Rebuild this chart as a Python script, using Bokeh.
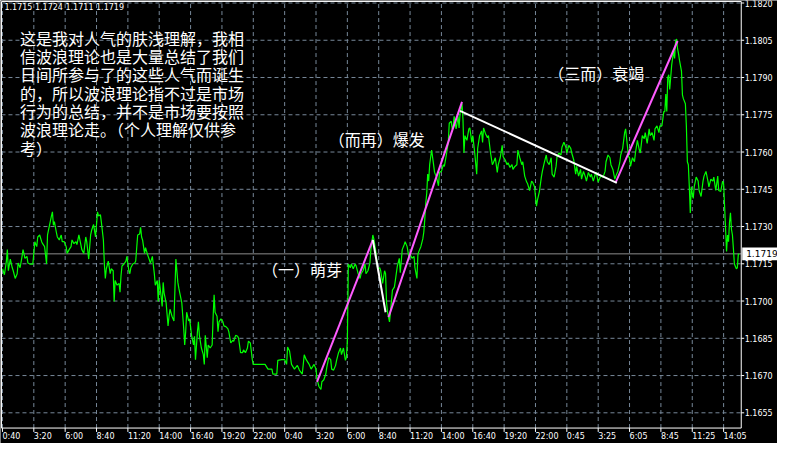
from bokeh.plotting import figure
from bokeh.models import Range1d, ColumnDataSource
from bokeh.embed import file_html
from bokeh.resources import INLINE
from bokeh.core.properties import value

# ---------------- data ----------------
bars = [2, 4, 6, 7, 8, 10, 12, 13, 15, 17, 18, 20, 22, 23, 25, 27, 28, 30, 33, 34, 35, 37, 38, 40, 42, 43, 45, 47, 48, 50,
        52, 53, 54, 55, 57, 58, 60, 62, 63, 65, 67, 68, 70, 72, 73, 75, 77, 78, 80, 82, 83, 85, 87, 88, 90, 92, 93, 95, 97, 99,
        100, 102, 103, 105, 106, 107, 108, 110, 112, 113, 115, 116, 117, 119, 121, 122, 123, 124, 126, 128, 129, 131, 132, 133, 135, 137, 138, 140, 142, 143,
        144, 145, 147, 148, 150, 152, 153, 155, 157, 158, 160, 161, 162, 164, 165, 166, 167, 169, 171, 172, 173, 175, 177, 178, 179, 181, 182, 183, 185, 187,
        188, 189, 190, 192, 193, 195, 197, 198, 199, 201, 202, 203, 205, 207, 208, 209, 211, 212, 214, 216, 217, 218, 219, 221, 222, 223, 225, 227, 228, 230,
        232, 233, 235, 237, 238, 240, 242, 243, 245, 247, 248, 250, 252, 253, 255, 257, 258, 260, 263, 265, 270, 273, 277, 278, 282, 283, 287, 290, 292, 293,
        295, 297, 300, 303, 305, 308, 310, 312, 315, 317, 320, 322, 323, 325, 327, 328, 330, 332, 333, 335, 337, 338, 340, 342, 343, 345, 347, 348, 350, 352,
        353, 354, 355, 357, 358, 360, 362, 363, 365, 367, 368, 370, 372, 373, 375, 377, 378, 380, 381, 382, 383, 385, 387, 388, 390, 392, 393, 394, 395, 397,
        398, 400, 402, 403, 405, 407, 408, 410, 412, 413, 415, 417, 418, 420, 422, 423, 425, 426, 427, 429, 431, 432, 433, 434, 435, 436, 437, 438, 440, 442,
        443, 445, 447, 448, 450, 452, 453, 455, 457, 458, 460, 461, 462, 463, 465, 467, 468, 469, 471, 472, 473, 474, 476, 478, 479, 481, 482, 484, 486, 487,
        489, 491, 492, 493, 495, 497, 498, 500, 502, 503, 505, 507, 508, 510, 512, 513, 515, 517, 518, 520, 522, 523, 525, 527, 528, 530, 532, 533, 535, 537,
        538, 540, 542, 543, 545, 547, 548, 550, 552, 553, 555, 557, 558, 560, 562, 563, 565, 567, 568, 570, 572, 573, 575, 577, 578, 580, 582, 583, 585, 587,
        588, 590, 592, 593, 595, 597, 598, 600, 602, 603, 605, 607, 608, 610, 612, 613, 615, 617, 618, 620, 622, 623, 625, 627, 628, 630, 632, 633, 635, 637,
        638, 639, 641, 642, 643, 645, 647, 648, 650, 652, 653, 655, 657, 658, 660, 662, 663, 665, 667, 668, 670, 672, 673, 675, 677, 678, 679, 680, 681, 682,
        683, 685, 687, 688, 689, 690, 691, 692, 693, 695, 696, 697, 699, 700, 701, 702, 703, 704, 705, 706, 707, 708, 710, 712, 713, 715, 717, 718, 720, 722,
        723, 725, 727, 728, 730, 732, 733, 735, 737, 738, 739, 741, 742, 743, 744, 745, 746, 747, 748, 749, 751, 752, 753, 754]

close = [1.17130, 1.17106, 1.17161, 1.17207, 1.17122, 1.17169, 1.17134, 1.17122, 1.17091, 1.17110, 1.17153, 1.17134, 1.17180, 1.17207, 1.17172, 1.17180, 1.17153, 1.17149, 1.17149, 1.17192,
         1.17239, 1.17219, 1.17258, 1.17266, 1.17239, 1.17231, 1.17219, 1.17149, 1.17266, 1.17305, 1.17343, 1.17359, 1.17305, 1.17320, 1.17277, 1.17258, 1.17246, 1.17266, 1.17239, 1.17239,
         1.17219, 1.17192, 1.17207, 1.17219, 1.17246, 1.17231, 1.17239, 1.17227, 1.17266, 1.17227, 1.17207, 1.17192, 1.17258, 1.17239, 1.17169, 1.17266, 1.17285, 1.17308, 1.17258, 1.17359,
         1.17343, 1.17347, 1.17316, 1.17246, 1.17149, 1.17091, 1.17130, 1.17161, 1.17110, 1.17130, 1.17122, 1.16998, 1.17083, 1.17064, 1.17071, 1.17036, 1.17103, 1.17141, 1.17149, 1.17161,
         1.17180, 1.17122, 1.17110, 1.17134, 1.17149, 1.17153, 1.17161, 1.17266, 1.17270, 1.17297, 1.17258, 1.17246, 1.17192, 1.17215, 1.17188, 1.17165, 1.17153, 1.17180, 1.17110, 1.17064,
         1.17083, 1.16998, 1.17083, 1.17017, 1.16978, 1.17075, 1.17032, 1.16994, 1.16900, 1.16939, 1.16967, 1.16939, 1.16920, 1.17044, 1.17169, 1.17075, 1.17052, 1.17032, 1.16994, 1.16889,
         1.16823, 1.16877, 1.16955, 1.16920, 1.16928, 1.16862, 1.16823, 1.16858, 1.16764, 1.16877, 1.16916, 1.16862, 1.16811, 1.16784, 1.16745, 1.16862, 1.16772, 1.16823, 1.16811, 1.16823,
         1.16935, 1.17025, 1.16955, 1.16939, 1.16877, 1.16916, 1.16928, 1.16916, 1.16900, 1.16897, 1.16889, 1.16877, 1.16831, 1.16842, 1.16838, 1.16862, 1.16858, 1.16850, 1.16792, 1.16792,
         1.16803, 1.16792, 1.16811, 1.16838, 1.16831, 1.16764, 1.16745, 1.16745, 1.16745, 1.16745, 1.16745, 1.16726, 1.16726, 1.16706, 1.16706, 1.16761, 1.16764, 1.16764, 1.16745, 1.16815,
         1.16799, 1.16745, 1.16726, 1.16741, 1.16722, 1.16706, 1.16784, 1.16764, 1.16745, 1.16726, 1.16745, 1.16726, 1.16687, 1.16656, 1.16644, 1.16675, 1.16683, 1.16706, 1.16733, 1.16772,
         1.16764, 1.16726, 1.16722, 1.16741, 1.16761, 1.16792, 1.16811, 1.16784, 1.16811, 1.16761, 1.16772, 1.16838, 1.17149, 1.17134, 1.17149, 1.17130, 1.17149, 1.17141, 1.17110, 1.17091,
         1.17110, 1.17122, 1.17149, 1.17110, 1.17122, 1.17153, 1.17207, 1.17266, 1.17250, 1.17227, 1.17200, 1.17130, 1.17134, 1.17122, 1.17071, 1.17122, 1.17110, 1.16994, 1.16955, 1.16916,
         1.16955, 1.17044, 1.17056, 1.17083, 1.17141, 1.17172, 1.17114, 1.17207, 1.17227, 1.17239, 1.17219, 1.17172, 1.17188, 1.17172, 1.17180, 1.17134, 1.17091, 1.17188, 1.17200, 1.17219,
         1.17250, 1.17277, 1.17328, 1.17394, 1.17433, 1.17511, 1.17483, 1.17549, 1.17608, 1.17549, 1.17518, 1.17499, 1.17464, 1.17518, 1.17522, 1.17549, 1.17542, 1.17588, 1.17639, 1.17716,
         1.17724, 1.17693, 1.17705, 1.17744, 1.17693, 1.17744, 1.17697, 1.17755, 1.17794, 1.17732, 1.17596, 1.17666, 1.17647, 1.17693, 1.17697, 1.17639, 1.17666, 1.17596, 1.17511, 1.17615,
         1.17666, 1.17685, 1.17639, 1.17697, 1.17674, 1.17658, 1.17666, 1.17600, 1.17549, 1.17557, 1.17577, 1.17518, 1.17549, 1.17577, 1.17627, 1.17581, 1.17569, 1.17549, 1.17557, 1.17538,
         1.17549, 1.17530, 1.17542, 1.17549, 1.17608, 1.17577, 1.17549, 1.17561, 1.17503, 1.17479, 1.17472, 1.17445, 1.17483, 1.17479, 1.17460, 1.17382, 1.17406, 1.17441, 1.17499, 1.17522,
         1.17557, 1.17588, 1.17561, 1.17549, 1.17577, 1.17511, 1.17499, 1.17542, 1.17581, 1.17596, 1.17588, 1.17619, 1.17639, 1.17619, 1.17596, 1.17627, 1.17615, 1.17596, 1.17569, 1.17511,
         1.17542, 1.17503, 1.17530, 1.17491, 1.17522, 1.17499, 1.17483, 1.17518, 1.17499, 1.17511, 1.17483, 1.17511, 1.17518, 1.17479, 1.17499, 1.17503, 1.17499, 1.17522, 1.17561, 1.17588,
         1.17577, 1.17549, 1.17530, 1.17491, 1.17503, 1.17522, 1.17557, 1.17588, 1.17615, 1.17678, 1.17693, 1.17654, 1.17581, 1.17577, 1.17542, 1.17577, 1.17561, 1.17596, 1.17647, 1.17608,
         1.17596, 1.17666, 1.17654, 1.17678, 1.17635, 1.17693, 1.17666, 1.17678, 1.17647, 1.17693, 1.17705, 1.17678, 1.17705, 1.17705, 1.17763, 1.17763, 1.17833, 1.17763, 1.17899, 1.17911,
         1.17852, 1.17950, 1.18008, 1.17977, 1.18047, 1.18055, 1.18016, 1.17996, 1.17969, 1.17926, 1.17829, 1.17814, 1.17794, 1.17705, 1.17561, 1.17549, 1.17460, 1.17355, 1.17460, 1.17433,
         1.17413, 1.17460, 1.17499, 1.17483, 1.17445, 1.17421, 1.17483, 1.17503, 1.17522, 1.17483, 1.17460, 1.17491, 1.17483, 1.17499, 1.17445, 1.17503, 1.17445, 1.17441, 1.17483, 1.17472,
         1.17382, 1.17200, 1.17266, 1.17239, 1.17316, 1.17355, 1.17289, 1.17266, 1.17211, 1.17149, 1.17130, 1.17134, 1.17188, 1.17190]

# hand-drawn wave legs: rising legs (magenta) and falling legs (white)
rise_x0 = [323, 396, 628]
rise_p0 = [1.16675, 1.16935, 1.17479]
rise_x1 = [380, 471, 691]
rise_p1 = [1.17246, 1.17802, 1.18047]
fall_x0 = [380, 469]
fall_p0 = [1.17246, 1.17766]
fall_x1 = [393, 629]
fall_p1 = [1.16955, 1.17476]

ohlc = [1.1715, 1.1724, 1.1711, 1.1719]

time_tick_bars = [2, 34, 66, 98, 130, 162, 194, 226, 258, 290, 322, 354, 386, 418, 450, 482, 514, 546, 578, 610, 642, 674, 706, 738]
time_tick_labels = ["0:40", "3:20", "6:00", "8:40", "11:20", "14:00", "16:40", "19:20", "22:00", "0:40", "3:20", "6:00",
                    "8:40", "11:20", "14:00", "16:40", "19:20", "22:00", "0:45", "3:25", "6:05", "8:45", "11:25", "14:05"]
price_ticks = [1.1655, 1.1670, 1.1685, 1.1700, 1.1715, 1.1730, 1.1745, 1.1760, 1.1775, 1.1790, 1.1805, 1.1820]

note_lines = ["这是我对人气的肤浅理解，我相",
              "信波浪理论也是大量总结了我们",
              "日间所参与了的这些人气而诞生",
              "的，所以波浪理论指不过是市场",
              "行为的总结，并不是市场要按照",
              "波浪理论走。（个人理解仅供参",
              "考）"]
phase_labels = ["（一）萌芽", "（而再）爆发", "（三而）衰竭"]

# ---------------- layout helpers (terminal window geometry) ----------------
K = 0.0015 / 38.6          # price per window pixel
P0 = 1.1820 + 2.6 * K      # price at the window's top edge
def py(ry):
    return P0 - K * ry

CJK = "Noto Sans CJK SC"
SMALL = "DejaVu Sans"
GRID = "#778899"
FX0, FX1 = 1, 756                 # chart frame, in bar units
FY_TOP, FY_BOT = py(1), py(443)   # chart frame, in price units
last = close[-1]

p = figure(width=777, height=443, output_backend="svg", toolbar_location=None,
           x_range=Range1d(0, 793), y_range=Range1d(py(459), py(0)),
           x_axis_location=None, y_axis_location=None, min_border=0,
           background_fill_color="black", border_fill_color="black", outline_line_color=None)
p.grid.visible = False

# dashed grid at the tick positions
n_t = len(time_tick_bars)
n_p = len(price_ticks)
p.segment(x0=time_tick_bars, y0=[FY_BOT] * n_t, x1=time_tick_bars, y1=[FY_TOP] * n_t,
          line_color=GRID, line_width=1, line_dash="4 3")
p.segment(x0=[FX0] * n_p, y0=price_ticks, x1=[FX1] * n_p, y1=price_ticks,
          line_color=GRID, line_width=1, line_dash="4 3")

# current price line
p.segment(x0=[FX0], y0=[last], x1=[FX1], y1=[last], line_color="#8c8c8c", line_width=1)

# price line
p.line(bars, close, line_color="#00ff00", line_width=1.2)

# wave legs
p.segment(x0=rise_x0, y0=rise_p0, x1=rise_x1, y1=rise_p1, line_color="#ff5cff", line_width=2)
p.segment(x0=fall_x0, y0=fall_p0, x1=fall_x1, y1=fall_p1, line_color="white", line_width=2)

# chart frame
p.quad(left=[FX0], right=[FX1], top=[FY_TOP], bottom=[FY_BOT], fill_color=None,
       line_color="white", line_width=1)

# price scale (right)
p.segment(x0=[FX1] * n_p, y0=price_ticks, x1=[FX1 + 3] * n_p, y1=price_ticks, line_color="white", line_width=1)
p.text(x=[FX1 + 3.5] * n_p, y=price_ticks, text=[f"{v:.4f}" for v in price_ticks],
       text_font=value(SMALL), text_font_size="8px", text_color="white",
       text_baseline="middle", text_align="left")

# time scale (bottom), labels start at their ticks
p.segment(x0=time_tick_bars, y0=[FY_BOT] * n_t, x1=time_tick_bars, y1=[py(447)] * n_t, line_color="white", line_width=1)
p.text(x=time_tick_bars, y=[py(452)] * n_t, text=time_tick_labels,
       text_font=value(SMALL), text_font_size="8px", text_color="white",
       text_baseline="middle", text_align="left")

# current price tag
p.quad(left=[FX1 + 1], right=[793], top=[last + 6.5 * K], bottom=[last - 6.5 * K],
       fill_color="white", line_color=None)
p.text(x=[FX1 + 5], y=[last], text=[f"{last:.4f}"], text_font=value(SMALL), text_font_size="9px",
       text_color="black", text_baseline="middle", text_align="left")

# OHLC header
p.text(x=[4], y=[py(7)], text=[" ".join(f"{v:.4f}" for v in ohlc)],
       text_font=value(SMALL), text_font_size="8px", text_color="white",
       text_baseline="middle", text_align="left")

# commentary
note_src = ColumnDataSource(dict(x=[20] * len(note_lines),
                                 y=[py(38.5 + 19 * i) for i in range(len(note_lines))],
                                 t=note_lines))
p.text(x="x", y="y", text="t", source=note_src, text_font=value(CJK), text_font_size="16px",
       text_color="white", text_baseline="middle", text_align="left")

phase_src = ColumnDataSource(dict(x=[267, 335, 559], y=[py(278), py(143), py(75)], t=phase_labels))
p.text(x="x", y="y", text="t", source=phase_src, text_font=value(CJK), text_font_size="16px",
       text_color="white", text_baseline="middle", text_align="left")

open("out.html", "w").write(file_html(p, INLINE))
